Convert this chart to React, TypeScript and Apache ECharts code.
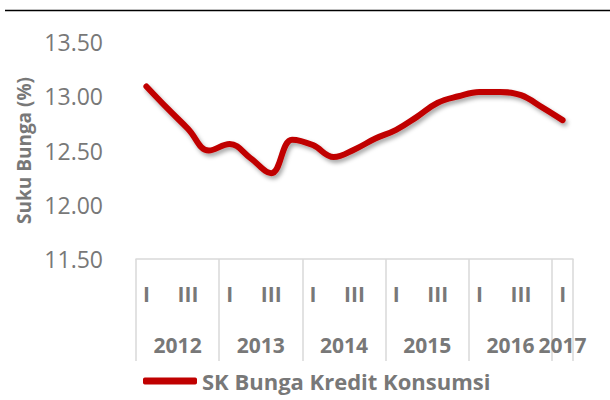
import React, { useEffect, useRef } from "react";
import * as echarts from "echarts";

const quarters = [
  "I", "II", "III", "IV",
  "I", "II", "III", "IV",
  "I", "II", "III", "IV",
  "I", "II", "III", "IV",
  "I", "II", "III", "IV",
  "I",
];
const values = [
  13.09, 12.89, 12.7, 12.5,
  12.56, 12.43, 12.29, 12.6,
  12.55, 12.44, 12.51, 12.61,
  12.69, 12.81, 12.94, 13.0,
  13.04, 13.04, 13.01, 12.9,
  12.78,
];
const yearLabels = ["2012", "2013", "2014", "2015", "2016", "2017"];
// position of each year label along the quarter index axis (group centre)
const yearPositions = [2, 6, 10, 14, 18, 20.5];
const seriesName = "SK Bunga Kredit Konsumsi";

const FONT = "Open Sans";
const GREY = "#787878";

export default function App() {
  const ref = useRef<HTMLDivElement>(null);
  useEffect(() => {
    if (!ref.current) return;
    const chart = echarts.init(ref.current, undefined, { renderer: "svg" });
    chart.setOption({
      animation: false,
      textStyle: { fontFamily: FONT },
      grid: { left: 136, right: 37, top: 42, bottom: 141, containLabel: false },
      graphic: [
        {
          type: "line",
          shape: { x1: 5, y1: 10.5, x2: 610, y2: 10.5 },
          style: { stroke: "#000", lineWidth: 1.5 },
        },
      ],
      legend: {
        show: true,
        left: 138,
        top: 365,
        icon: "roundRect",
        itemWidth: 54,
        itemHeight: 7,
        textStyle: { fontFamily: FONT, fontSize: 22, fontWeight: "bold", color: GREY },
        data: [{ name: seriesName, itemStyle: { color: "#c00000" } }],
      },
      xAxis: [
        {
          type: "category",
          data: quarters,
          boundaryGap: true,
          axisLine: { show: true, lineStyle: { color: "#d9d9d9", width: 1.5 } },
          axisTick: {
            show: true,
            length: 102,
            interval: (i: number) => i % 4 === 0,
            lineStyle: { color: "#d9d9d9", width: 1.5 },
          },
          axisLabel: {
            interval: 1,
            margin: 24,
            fontFamily: FONT,
            fontSize: 21,
            fontWeight: "bold",
            color: GREY,
          },
          splitLine: { show: false },
        },
        {
          type: "value",
          position: "bottom",
          min: 0,
          max: 21,
          interval: 0.5,
          axisLine: { show: false },
          axisTick: { show: false },
          splitLine: { show: false },
          axisLabel: {
            margin: 75,
            showMinLabel: true,
            showMaxLabel: true,
            fontFamily: FONT,
            fontSize: 21,
            fontWeight: "bold",
            color: GREY,
            formatter: (v: number) => {
              const idx = yearPositions.findIndex((p) => Math.abs(p - v) < 1e-6);
              return idx >= 0 ? yearLabels[idx] : "";
            },
          },
        },
      ],
      yAxis: {
        type: "value",
        min: 11.5,
        max: 13.5,
        interval: 0.5,
        name: "Suku Bunga (%)",
        nameLocation: "middle",
        nameRotate: 90,
        nameGap: 97,
        nameTextStyle: { fontFamily: FONT, fontSize: 19, fontWeight: "bold", color: GREY },
        axisLine: { show: false },
        axisTick: { show: false },
        splitLine: { show: false },
        axisLabel: {
          margin: 33,
          fontFamily: FONT,
          fontSize: 23,
          color: GREY,
          formatter: (v: number) => v.toFixed(2),
        },
      },
      series: [
        {
          name: seriesName,
          type: "line",
          data: values,
          smooth: 0.4,
          symbol: "none",
          lineStyle: {
            color: "#c00000",
            width: 6,
            cap: "round",
            join: "round",
            shadowColor: "rgba(0,0,0,0.35)",
            shadowBlur: 4,
            shadowOffsetX: 2,
            shadowOffsetY: 3,
          },
          itemStyle: { color: "#c00000" },
        },
      ],
    });
    return () => chart.dispose();
  }, []);
  return <div ref={ref} style={{ width: 610, height: 400, position: "absolute", left: 0, top: 0 }} />;
}
